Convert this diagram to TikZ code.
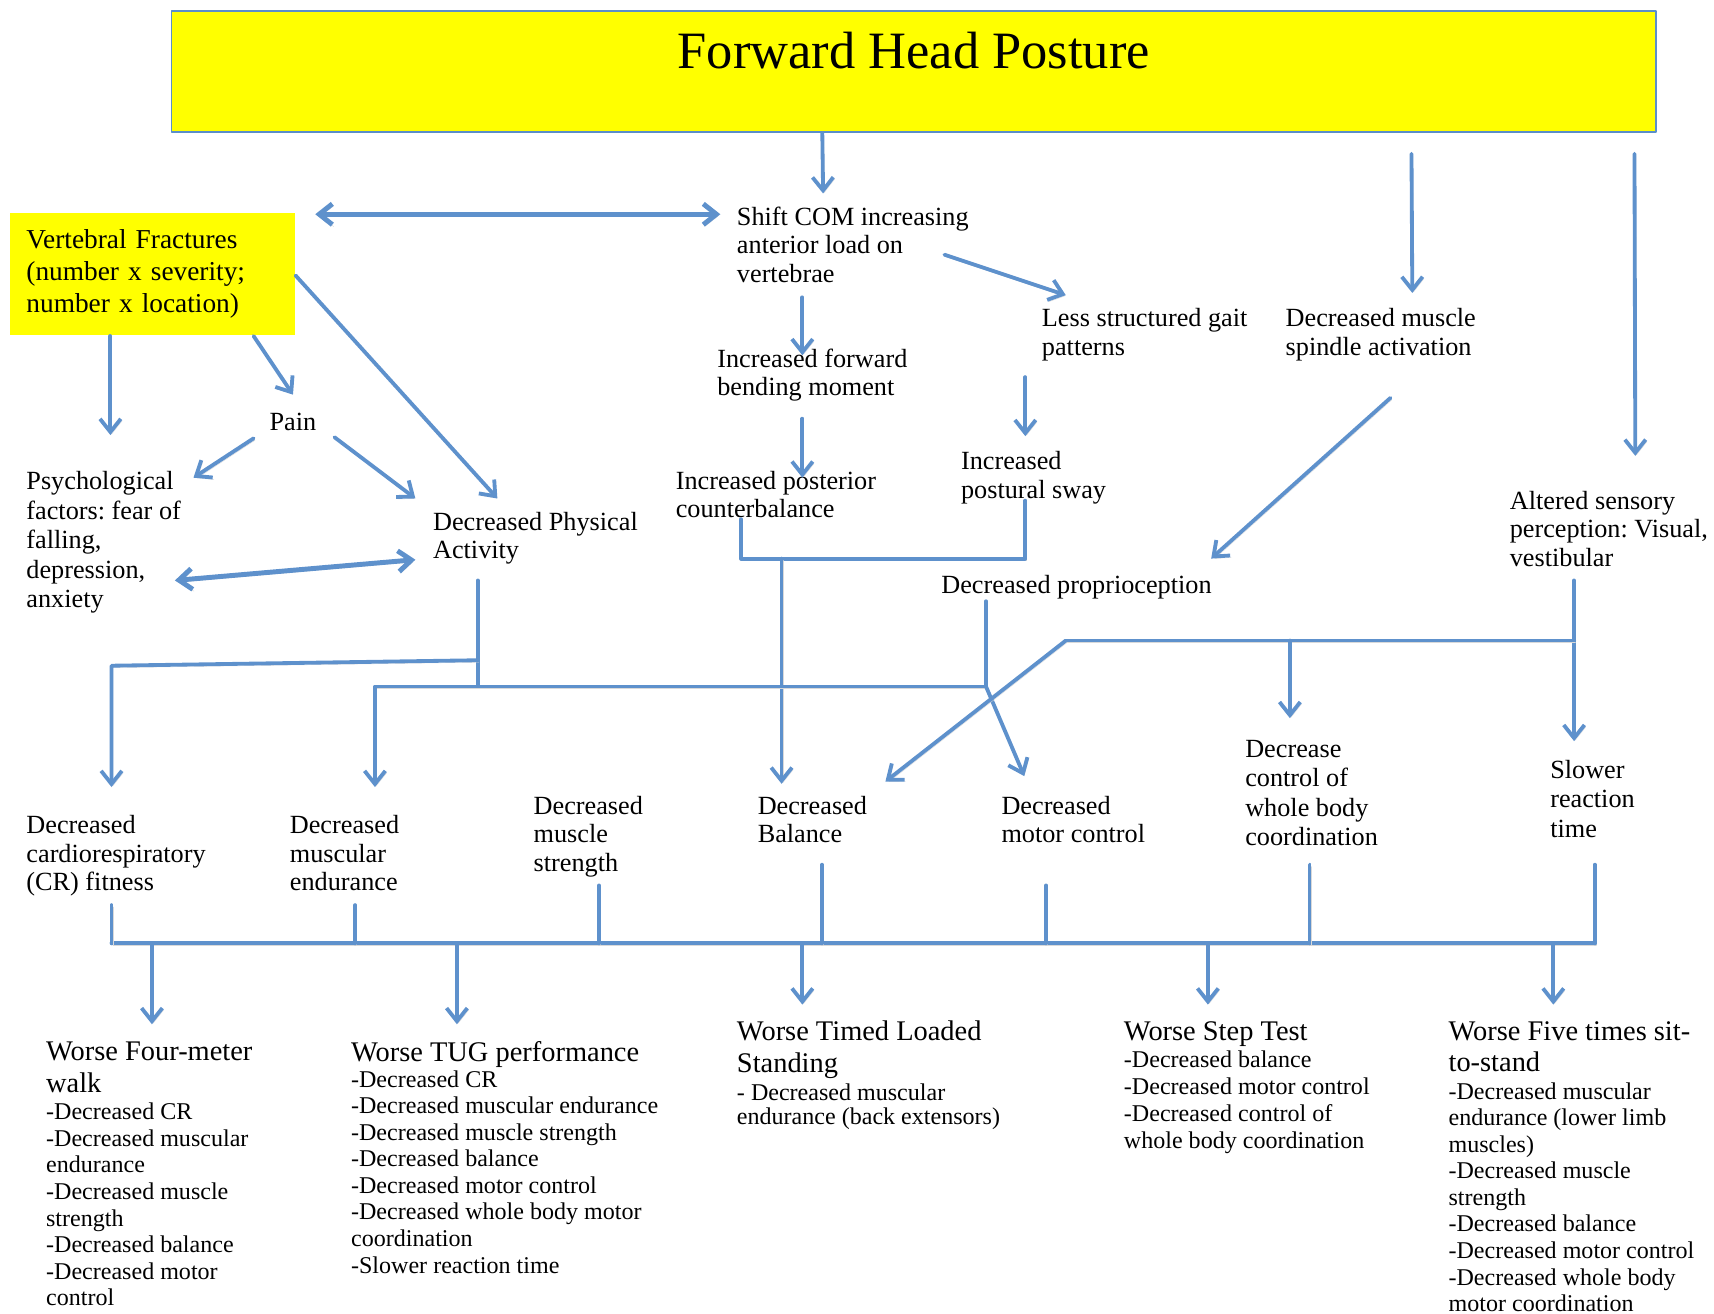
\documentclass[tikz,border=0pt]{standalone}
\usepackage{fontspec}
\setmainfont{Liberation Serif}
\usetikzlibrary{calc,arrows.meta}

\definecolor{flowblue}{RGB}{94,145,204}
\definecolor{boxyellow}{RGB}{255,255,0}
\definecolor{boxedge}{RGB}{91,143,201}
\frenchspacing

\begin{document}
\begin{tikzpicture}[x=1pt,y=-1pt,line cap=round,line join=round,
  >={Straight Barb[length=12pt,width=19pt]},
  link/.style={draw=flowblue,line width=3.5pt,
    preaction={draw=black!15,transform canvas={shift={(1.2pt,-1.8pt)}}}},
  arr/.style={link,->},
  dbl/.style={link,line width=4.5pt,<->},
  txt/.style={anchor=north west,inner sep=0pt,align=left,font=\fontsize{24}{26}\selectfont},
  head/.style={txt,font=\fontsize{26}{29}\selectfont},
  list/.style={txt,font=\fontsize{22}{24.3}\selectfont}]

\useasboundingbox (0,0) rectangle (1568,1202);

% -----------------------
% Boxes
% -----------------------
\node[draw=boxedge,line width=1.5pt,fill=boxyellow,minimum width=1358pt,minimum height=111pt] (title) at (836,65.5) {};
\node[font=\fontsize{48}{52}\selectfont] (titletext) at (836,46.5) {Forward Head Posture};

\node[anchor=north west,fill=boxyellow,minimum width=261pt,minimum height=111pt,text width=231pt,
  inner xsep=15pt,align=left,font=\fontsize{25}{29.5}\selectfont] (vf) at (9,195)
  {Vertebral Fractures\\(number x severity;\\number x location)};

% -----------------------
% Upper causes
% -----------------------
\node[txt] (shift) at (674,189) {Shift COM increasing\\anterior load on\\vertebrae};
\node[txt] (fwd) at (656,319) {Increased forward\\bending moment};
\node[txt] (gait) at (953,282) {Less structured gait\\patterns};
\node[txt] (spindle) at (1176,282) {Decreased muscle\\spindle activation};
\node[txt,anchor=center] (pain) at (268,386) {Pain};
\node[txt,font=\fontsize{24}{27}\selectfont] (psych) at (24,431) {Psychological\\factors: fear of\\falling,\\depression,\\anxiety};
\node[txt] (dpa) at (396,468) {Decreased Physical\\Activity};
\node[txt] (post) at (618,431) {Increased posterior\\counterbalance};
\node[txt] (sway) at (879,413) {Increased\\postural sway};
\node[txt] (prop) at (861,526) {Decreased proprioception};
\node[txt] (sens) at (1381,449) {Altered sensory\\perception: Visual,\\vestibular};

% -----------------------
% Deficits
% -----------------------
\node[txt] (cr) at (24,746) {Decreased\\cardiorespiratory\\(CR) fitness};
\node[txt] (endu) at (265,746) {Decreased\\muscular\\endurance};
\node[txt] (stren) at (488,728) {Decreased\\muscle\\strength};
\node[txt] (bal) at (693,728) {Decreased\\Balance};
\node[txt] (motor) at (916,728) {Decreased\\motor control};
\node[txt,font=\fontsize{24}{27}\selectfont] (coord) at (1139,677) {Decrease\\control of\\whole body\\coordination};
\node[txt,font=\fontsize{24}{27}\selectfont] (react) at (1418,695) {Slower\\reaction\\time};

% -----------------------
% Tests
% -----------------------
\node[head] (fourhead) at (42,953) {Worse Four-meter\\walk};
\node[list] (fourlist) at (42,1009) {-Decreased CR\\-Decreased muscular\\endurance\\-Decreased muscle\\strength\\-Decreased balance\\-Decreased motor\\control};
\node[head] (tughead) at (321,953) {Worse TUG performance};
\node[list] (tuglist) at (321,979) {-Decreased CR\\-Decreased muscular endurance\\-Decreased muscle strength\\-Decreased balance\\-Decreased motor control\\-Decreased whole body motor\\coordination\\-Slower reaction time};
\node[head] (tlshead) at (674,934) {Worse Timed Loaded\\Standing};
\node[list,font=\fontsize{22}{22.5}\selectfont] (tlslist) at (674,991) {- Decreased muscular\\endurance (back extensors)};
\node[head] (stephead) at (1028,934) {Worse Step Test};
\node[list,font=\fontsize{22}{24.7}\selectfont] (steplist) at (1028,961) {-Decreased balance\\-Decreased motor control\\-Decreased control of\\whole body coordination};
\node[head] (fivehead) at (1325,934) {Worse Five times sit-\\to-stand};
\node[list] (fivelist) at (1325,990) {-Decreased muscular\\endurance (lower limb\\muscles)\\-Decreased muscle\\strength\\-Decreased balance\\-Decreased motor control\\-Decreased whole body\\motor coordination};

% -----------------------
% Junctions
% -----------------------
\coordinate (cbjoin) at (715,511);
\coordinate (dpabr) at (437,604);
\coordinate (crcorner) at (102,609);
\coordinate (enjoin) at (437,628);
\coordinate (encorner) at (343,628);
\coordinate (propjoin) at (902,628);
\coordinate (senscorner) at (975,586);
\coordinate (sensjoin) at (1440,586);
\coordinate (coordbr) at (1180,586);
\coordinate (busL) at (102,863);
\coordinate (busR) at (1459,863);

% -----------------------
% Upper arrows
% -----------------------
\draw[arr] ($(title.south west)+(596,0)$) -- ($(shift.north west)+(79,-12)$);
\draw[dbl] ($(vf.north east)+(18,1)$) -- ($(shift.north west)+(-15,7)$);
\draw[arr] ($(shift.north west)+(60,83)$) -- ($(fwd.north west)+(78,6)$);
\draw[arr] ($(shift.north west)+(190,44)$) -- ($(gait.north west)+(22,-12)$);
\draw[arr] ($(title.south west)+(1135,19)$) -- ($(spindle.north west)+(116,-14)$);
\draw[arr] ($(title.south west)+(1339,19)$) -- ($(sens.north west)+(115,-32)$);

\draw[arr] ($(vf.south west)+(92,1)$) -- ($(psych.north west)+(77,-33)$);
\draw[arr] ($(vf.south west)+(223,1)$) -- ($(pain.center)+(0,-25)$);
\draw[arr] ($(vf.north east)+(0,57)$) -- ($(dpa.north west)+(59,-12)$);
\draw[arr] ($(pain.center)+(-36,15)$) -- ($(psych.north west)+(153,6)$);
\draw[arr] ($(pain.center)+(38,14)$) -- ($(dpa.north west)+(-16,-12)$);
\draw[dbl] ($(psych.north west)+(136,100)$) -- ($(dpa.north west)+(-16,44)$);

\draw[arr] ($(fwd.north west)+(78,64)$) -- ($(post.north west)+(116,6)$);
\draw[arr] ($(gait.north west)+(-15,63)$) -- ($(sway.north west)+(59,-14)$);
\draw[arr] ($(spindle.north west)+(96,82)$) -- ($(prop.north west)+(247,-15)$);

% -----------------------
% Branches to deficits
% -----------------------
\draw[link] ($(post.north west)+(60,44)$) |- (cbjoin) -| ($(sway.north west)+(59,45)$);
\draw[arr] (cbjoin) -- ($(bal.north west)+(22,-11)$);

\draw[link] ($(dpa.north west)+(41,63)$) -- (enjoin);
\draw[arr] (dpabr) -- (crcorner) -- ($(cr.north west)+(78,-26)$);
\draw[arr] (propjoin) -- (encorner) -- ($(endu.north west)+(78,-26)$);

\draw[link] ($(prop.north west)+(41,24)$) -- (propjoin);
\draw[arr] (propjoin) -- ($(motor.north west)+(21,-18)$);

\draw[arr] ($(sens.north west)+(59,82)$) -- ($(react.north west)+(22,-17)$);
\draw[link] (senscorner) -- (sensjoin);
\draw[arr] (coordbr) -- ($(coord.north west)+(41,-20)$);
\draw[arr] (senscorner) -- ($(bal.north west)+(117,-13)$);

% -----------------------
% Bus to tests
% -----------------------
\draw[link] (busL) -- (busR);
\foreach \n/\dx/\dy in {cr/78/82,endu/60/82,stren/60/82,bal/59/63,motor/41/82,coord/59/114,react/41/96}
  \draw[link] ($(\n.north west)+(\dx,\dy)$) coordinate (top) -- (top |- busL);
\foreach \n/\dx/\dy in {fourhead/97/-16,tughead/97/-16,tlshead/60/-15,stephead/77/-15,fivehead/96/-15}{
  \path ($(\n.north west)+(\dx,\dy)$) coordinate (tip);
  \draw[arr] (tip |- busL) -- (tip);
}

\end{tikzpicture}
\end{document}
